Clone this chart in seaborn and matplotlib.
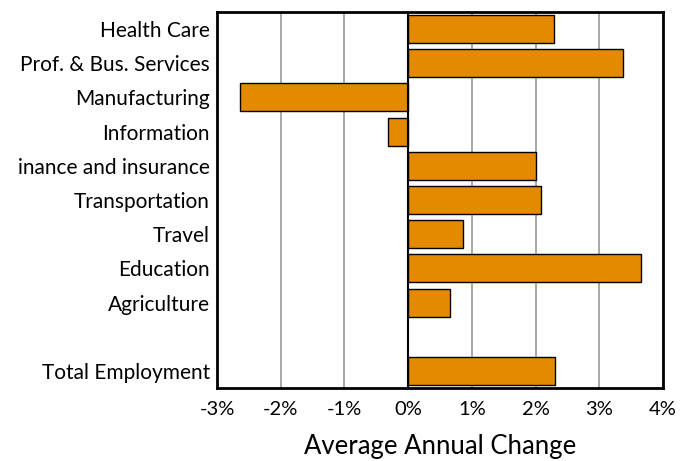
import matplotlib
matplotlib.use("Agg")
import matplotlib.pyplot as plt
import seaborn as sns
import pandas as pd
import numpy as np

categories = ["Health Care", "Prof. & Bus. Services", "Manufacturing", "Information",
              "inance and insurance", "Transportation", "Travel", "Education",
              "Agriculture", " ", "Total Employment"]
values = [2.29, 3.37, -2.64, -0.32, 2.00, 2.09, 0.86, 3.65, 0.65, np.nan, 2.31]
xticks = [-3, -2, -1, 0, 1, 2, 3, 4]
xtick_labels = ["-3%", "-2%", "-1%", "0%", "1%", "2%", "3%", "4%"]

sns.set_style("white")
plt.rcParams["font.family"] = ["Lato", "DejaVu Sans"]

df = pd.DataFrame({"cat": categories, "val": values})

fig = plt.figure(figsize=(6.88, 4.61), dpi=100)
ax = fig.add_axes([217/688, 1-388/461, (663-217)/688, (388-12)/461])

sns.barplot(data=df, y="cat", x="val", order=categories, color="#E38A00",
            saturation=1, edgecolor="black", linewidth=1, width=0.82, ax=ax,
            errorbar=None, zorder=3)

ax.set_xlim(-3, 4)
ax.set_xticks(xticks)
ax.set_xticklabels(xtick_labels, fontsize=14.5)
ax.xaxis.grid(True, color="#999999", linewidth=1.2, zorder=0)
ax.yaxis.grid(False)
ax.axvline(0, color="black", linewidth=1.5, zorder=4)
ax.tick_params(axis="x", length=0, pad=9, labelcolor="black")
ax.tick_params(axis="y", length=0, labelsize=15, pad=5, labelcolor="black")
ax.set_ylabel("")
ax.set_xlabel("Average Annual Change", fontsize=18.5, labelpad=12, color="black")
for s in ax.spines.values():
    s.set_visible(True)
    s.set_color("black")
    s.set_linewidth(2)
ax.set_axisbelow(True)

fig.savefig("out.png", dpi=100)
